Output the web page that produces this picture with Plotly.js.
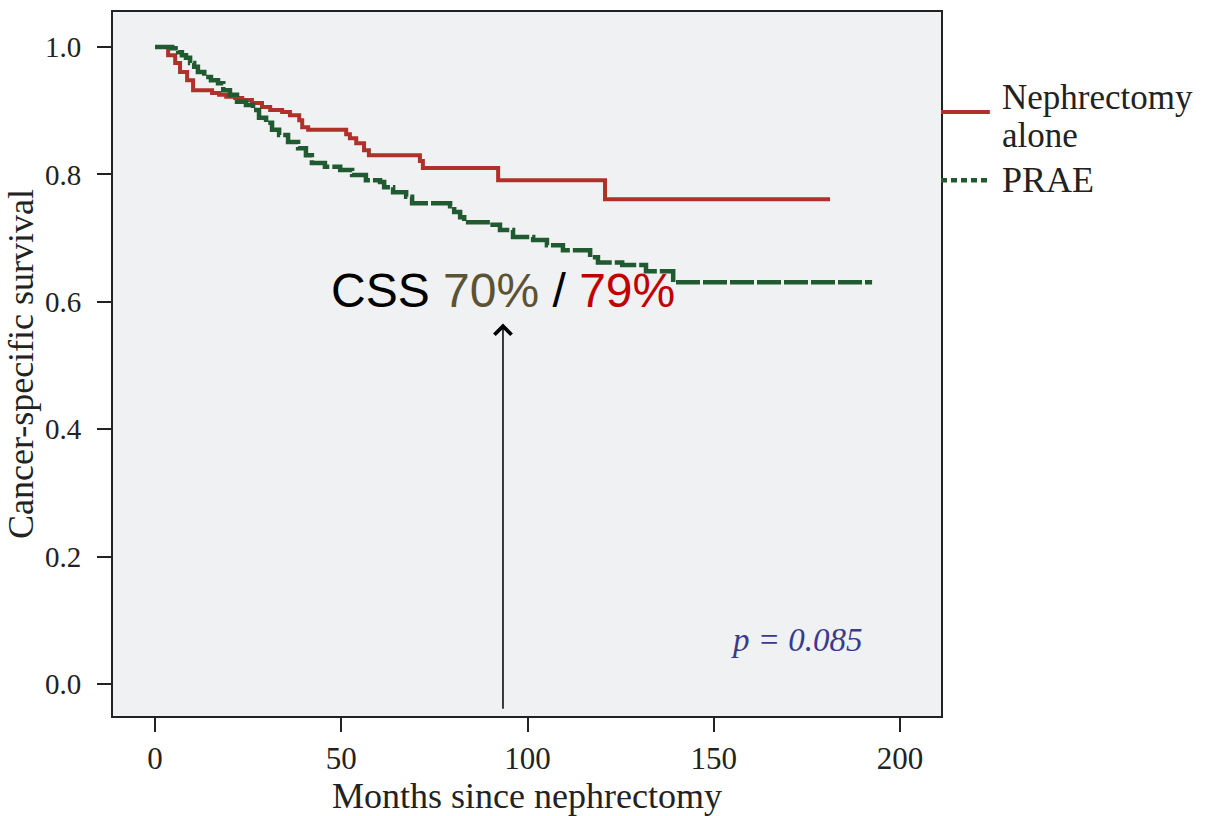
<!DOCTYPE html>
<html>
<head>
<meta charset="utf-8">
<script src="https://cdn.plot.ly/plotly-3.0.1.min.js"></script>
<style>html,body{margin:0;padding:0;background:#fff;}#chart{width:1205px;height:816px;}</style>
</head>
<body>
<div id="chart"></div>
<script>
// Nephrectomy alone: step points (months, survival)
var nephMonths = [0, 3.5, 5.4, 6.7, 8.6, 10.2, 15.3, 17.2, 19.1, 21.5, 23.4, 26.0, 28.7, 30.9, 34.1, 36.2, 38.7, 39.5, 41.1, 51.3, 52.3, 54.0, 56.1, 57.4, 71.1, 71.9, 92.1, 120.8, 181.2];
var nephSurv   = [1.0, 0.987, 0.975, 0.961, 0.948, 0.932, 0.928, 0.925, 0.922, 0.920, 0.917, 0.912, 0.906, 0.901, 0.898, 0.893, 0.885, 0.874, 0.870, 0.863, 0.857, 0.849, 0.838, 0.830, 0.821, 0.810, 0.791, 0.761, 0.761];

// PRAE: step points (months, survival)
var praeMonths = [0, 4.6, 6.2, 7.2, 8.3, 9.4, 10.5, 11.5, 13.2, 15.0, 16.9, 18.3, 20.1, 22.0, 24.4, 26.3, 27.9, 29.8, 31.4, 33.3, 35.7, 38.4, 40.5, 42.1, 45.6, 49.7, 52.9, 56.6, 60.4, 61.5, 63.9, 67.4, 69.0, 79.2, 80.3, 81.9, 83.0, 89.9, 92.6, 96.1, 101.5, 105.2, 109.5, 116.8, 118.9, 125.4, 131.8, 139.1, 192.5];
var praeSurv   = [1.0, 0.998, 0.992, 0.987, 0.983, 0.975, 0.969, 0.961, 0.953, 0.948, 0.943, 0.932, 0.925, 0.914, 0.909, 0.901, 0.889, 0.881, 0.870, 0.862, 0.851, 0.841, 0.830, 0.818, 0.812, 0.807, 0.799, 0.791, 0.788, 0.780, 0.772, 0.765, 0.755, 0.750, 0.741, 0.733, 0.725, 0.721, 0.713, 0.702, 0.697, 0.689, 0.681, 0.670, 0.662, 0.658, 0.648, 0.631, 0.631];

var xTicks = [0, 50, 100, 150, 200];
var yTicks = [0.0, 0.2, 0.4, 0.6, 0.8, 1.0];
var yTickLabels = ['0.0', '0.2', '0.4', '0.6', '0.8', '1.0'];

var arrowMonth = 93.4;
var cssLabel = "CSS <span style='color:#5b5333'>70%</span> / <span style='color:#c00000'>79%</span>";
var pLabel = "p = 0.085";

var RED = '#b0302a';
var GREEN = '#1f5a30';
var serif = 'Liberation Serif, Times New Roman, serif';

var traces = [
  {
    x: nephMonths, y: nephSurv, type: 'scatter', mode: 'lines',
    line: {shape: 'hv', color: RED, width: 4},
    name: 'Nephrectomy alone', showlegend: false, hoverinfo: 'skip'
  },
  {
    x: praeMonths, y: praeSurv, type: 'scatter', mode: 'lines',
    line: {shape: 'hv', color: GREEN, width: 4.5, dash: '24px,3px'},
    name: 'PRAE', showlegend: false, hoverinfo: 'skip'
  }
];

var layout = {
  width: 1205, height: 816,
  margin: {l: 113, r: 264, t: 12, b: 100},
  paper_bgcolor: '#ffffff',
  plot_bgcolor: '#f0f1f3',
  font: {family: serif, color: '#222222'},
  xaxis: {
    range: [-11.3, 211],
    tickvals: xTicks,
    ticks: 'outside', ticklen: 14, tickwidth: 2, tickcolor: '#222',
    showline: true, mirror: true, linewidth: 2, linecolor: '#222',
    showgrid: false, zeroline: false,
    tickfont: {size: 31, family: serif, color: '#222'},
    title: {text: 'Months since nephrectomy', font: {size: 36, family: serif, color: '#222'}, standoff: 2}
  },
  yaxis: {
    range: [-0.05, 1.055],
    tickvals: yTicks, ticktext: yTickLabels,
    ticks: 'outside', ticklen: 14, tickwidth: 2, tickcolor: '#222',
    ticklabelstandoff: 10,
    showline: true, mirror: true, linewidth: 2, linecolor: '#222',
    showgrid: false, zeroline: false,
    tickfont: {size: 29, family: serif, color: '#222'},
    title: {text: 'Cancer-specific survival', font: {size: 36, family: serif, color: '#222'}, standoff: 0}
  },
  shapes: [
    {type: 'line', xref: 'paper', yref: 'paper', x0: 1.0, x1: 1.059, y0: 0.858, y1: 0.858,
     line: {color: RED, width: 4}},
    {type: 'line', xref: 'paper', yref: 'paper', x0: 1.0, x1: 1.059, y0: 0.761, y1: 0.761,
     line: {color: GREEN, width: 4.5, dash: '6px,4px'}}
  ],
  annotations: [
    {xref: 'paper', yref: 'paper', x: 1.071, y: 0.879, xanchor: 'left', yanchor: 'middle',
     text: 'Nephrectomy', showarrow: false, font: {size: 35, family: serif, color: '#222'}},
    {xref: 'paper', yref: 'paper', x: 1.071, y: 0.825, xanchor: 'left', yanchor: 'middle',
     text: 'alone', showarrow: false, font: {size: 35, family: serif, color: '#222'}},
    {xref: 'paper', yref: 'paper', x: 1.071, y: 0.761, xanchor: 'left', yanchor: 'middle',
     text: 'PRAE', showarrow: false, font: {size: 36, family: serif, color: '#222'}},
    {x: arrowMonth, y: 0.618, xref: 'x', yref: 'y', text: cssLabel, showarrow: false,
     xanchor: 'center', yanchor: 'middle',
     font: {size: 48, family: 'Liberation Sans, Arial, sans-serif', color: '#000'}},
    {x: arrowMonth, y: 0.566, ax: arrowMonth, ay: -0.041, xref: 'x', yref: 'y', axref: 'x', ayref: 'y',
     text: '', showarrow: true, arrowhead: 4, arrowsize: 2.2, arrowwidth: 1.5, arrowcolor: '#000'},
    {x: 172.3, y: 0.069, xref: 'x', yref: 'y', text: pLabel, showarrow: false,
     xanchor: 'center', yanchor: 'middle',
     font: {size: 33, family: serif, color: '#3a3a8c', style: 'italic'}}
  ]
};

Plotly.newPlot('chart', traces, layout, {staticPlot: true, displayModeBar: false});
</script>
</body>
</html>
